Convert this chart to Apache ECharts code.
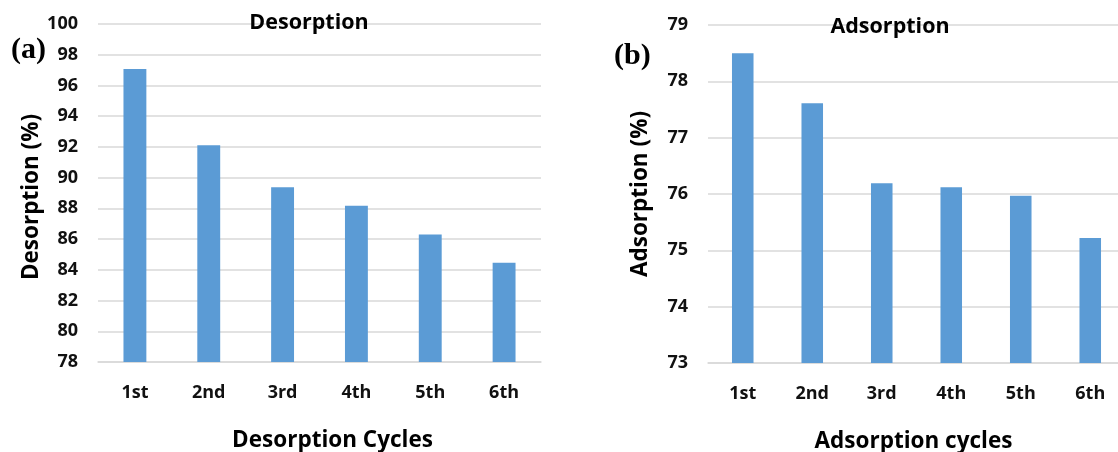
<!DOCTYPE html>
<html>
<head>
<meta charset="utf-8">
<script src="https://cdn.jsdelivr.net/npm/echarts@6/dist/echarts.min.js"></script>
<style>html,body{margin:0;padding:0;background:#fff;}#c{width:1118px;height:452px;}</style>
</head>
<body>
<div id="c"></div>
<script>
const categories = ['1st', '2nd', '3rd', '4th', '5th', '6th'];
const desorption = [97.07, 92.11, 89.38, 88.17, 86.30, 84.46];
const adsorption = [78.50, 77.61, 76.19, 76.12, 75.97, 75.22];
const desTicks = { min: 78, max: 100, interval: 2 };
const adsTicks = { min: 73, max: 79, interval: 1 };

const FONT = '"Open Sans", sans-serif';
const gridLine = { show: true, lineStyle: { color: '#d9d9d9', width: 1.5 } };
const tickLabel = { fontFamily: FONT, fontWeight: 'bold', fontSize: 18, color: '#111' };

const chart = echarts.init(document.getElementById('c'), null, { renderer: 'canvas' });
chart.setOption({
  backgroundColor: '#fff',
  animation: false,
  title: [
    { text: 'Desorption', left: 304, top: 7, textAlign: 'center',
      textStyle: { fontFamily: FONT, fontWeight: 'bold', fontSize: 21.5, color: '#000' } },
    { text: 'Adsorption', left: 885, top: 11, textAlign: 'center',
      textStyle: { fontFamily: FONT, fontWeight: 'bold', fontSize: 21.5, color: '#000' } }
  ],
  graphic: [
    { type: 'text', left: 11, top: 35, style: { text: '(a)', font: 'bold 30px "Liberation Serif", "DejaVu Serif", serif', fill: '#000' } },
    { type: 'text', left: 614, top: 41, style: { text: '(b)', font: 'bold 30px "Liberation Serif", "DejaVu Serif", serif', fill: '#000' } }
  ],
  grid: [
    { left: 98, top: 24, width: 443, height: 338, containLabel: false, outerBoundsMode: 'none' },
    { left: 708, top: 25, width: 417, height: 338, containLabel: false, outerBoundsMode: 'none' }
  ],
  xAxis: [
    { type: 'category', gridIndex: 0, data: categories,
      axisLine: { lineStyle: { color: '#d9d9d9', width: 1.5 } }, axisTick: { show: false },
      axisLabel: Object.assign({ margin: 22 }, tickLabel),
      name: 'Desorption Cycles', nameLocation: 'middle', nameGap: 67,
      nameTextStyle: { fontFamily: FONT, fontWeight: 'bold', fontSize: 22.5, color: '#000', padding: [0, 0, 0, 26] } },
    { type: 'category', gridIndex: 1, data: categories,
      axisLine: { lineStyle: { color: '#d9d9d9', width: 1.5 } }, axisTick: { show: false },
      axisLabel: Object.assign({ margin: 22 }, tickLabel),
      name: 'Adsorption cycles', nameLocation: 'middle', nameGap: 67,
      nameTextStyle: { fontFamily: FONT, fontWeight: 'bold', fontSize: 22.5, color: '#000', padding: [0, 0, 0, -6] } }
  ],
  yAxis: [
    { type: 'value', gridIndex: 0, min: desTicks.min, max: desTicks.max, interval: desTicks.interval,
      splitLine: gridLine, axisLine: { show: false }, axisTick: { show: false },
      axisLabel: Object.assign({ margin: 20 }, tickLabel),
      name: 'Desorption (%)', nameLocation: 'middle', nameGap: 53, nameRotate: 90,
      nameTextStyle: { fontFamily: FONT, fontWeight: 'bold', fontSize: 22.5, color: '#000', padding: [0, 0, 0, -8] } },
    { type: 'value', gridIndex: 1, min: adsTicks.min, max: adsTicks.max, interval: adsTicks.interval,
      splitLine: gridLine, axisLine: { show: false }, axisTick: { show: false },
      axisLabel: Object.assign({ margin: 20 }, tickLabel),
      name: 'Adsorption (%)', nameLocation: 'middle', nameGap: 56, nameRotate: 90,
      nameTextStyle: { fontFamily: FONT, fontWeight: 'bold', fontSize: 22.5, color: '#000' } }
  ],
  series: [
    { type: 'bar', xAxisIndex: 0, yAxisIndex: 0, data: desorption, barWidth: '31%',
      itemStyle: { color: '#5b9bd5' } },
    { type: 'bar', xAxisIndex: 1, yAxisIndex: 1, data: adsorption, barWidth: '31%',
      itemStyle: { color: '#5b9bd5' } }
  ]
});
</script>
</body>
</html>
